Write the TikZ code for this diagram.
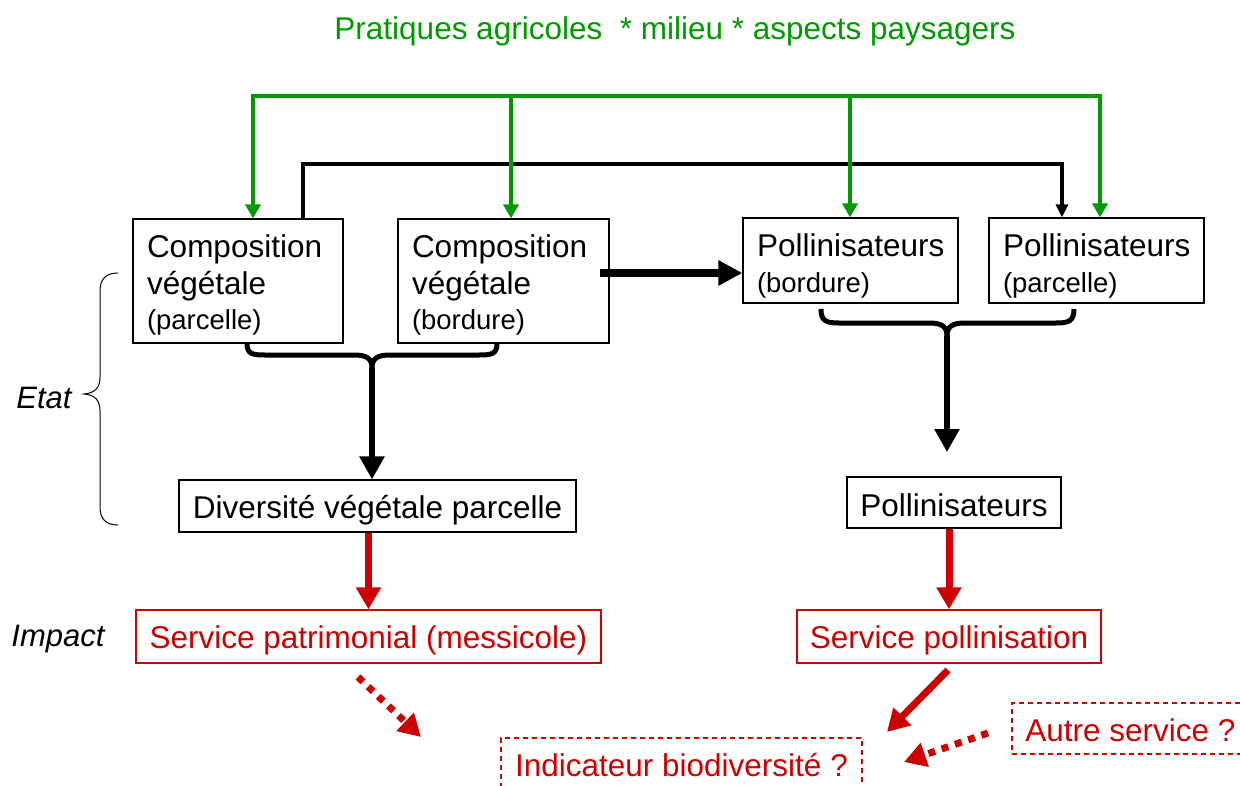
\documentclass[tikz,border=0pt]{standalone}
\usepackage{fontspec}
\setmainfont{Liberation Sans}
\usetikzlibrary{arrows.meta}
\definecolor{gr}{RGB}{0,153,0}
\definecolor{rd}{RGB}{204,0,0}
\tikzset{
  big/.style={font=\fontsize{31.5}{37}\selectfont},
  bbox/.style={draw=black, line width=1.2pt, rectangle, inner sep=0pt, big},
  mbox/.style={bbox, align=left, inner xsep=14pt},
  rbox/.style={draw=rd, line width=1.4pt, rectangle, inner sep=0pt, text=rd, big},
  dbox/.style={rbox, dash pattern=on 5pt off 4pt},
  garr/.style={draw=gr, line width=4pt, -{Triangle[length=14pt,width=15pt]}},
  thin/.style={draw=black, line width=3.5pt, -{Triangle[length=13pt,width=12pt]}},
  thick/.style={draw=black, line width=8pt, -{Triangle[length=24pt,width=24pt]}},
  bracel/.style={draw=black, line width=5pt},
  barr/.style={draw=black, line width=5.5pt, -{Triangle[length=23pt,width=24pt]}},
  rarr/.style={draw=rd, line width=7pt, -{Triangle[length=22pt,width=24pt]}},
  rdot/.style={draw=rd, line width=7pt, dash pattern=on 7pt off 7pt, -{Triangle[length=22pt,width=24pt]}},
  side/.style={font=\fontsize{31}{36}\selectfont\itshape},
}
\newcommand{\smalltxt}[1]{{\fontsize{27.5}{33}\selectfont #1}}
\begin{document}
\begin{tikzpicture}[x=1pt,y=-1pt]
\clip (0,0) rectangle (1240,785);
\useasboundingbox (0,0) rectangle (1240,785);

% title
\node[big, text=gr] (title) at (675,31) {Pratiques agricoles \ * milieu * aspects paysagers};

% top boxes
\node[mbox, minimum width=210pt, minimum height=124pt, text width=182pt] (b1) at (238,281)
  {\rule{0pt}{31pt}Composition\\végétale\\[-2pt]\smalltxt{(parcelle)}};
\node[mbox, minimum width=211pt, minimum height=124pt, text width=183pt] (b2) at (503.5,281)
  {\rule{0pt}{31pt}Composition\\végétale\\[-2pt]\smalltxt{(bordure)}};
\node[mbox, minimum width=215pt, minimum height=85pt, text width=187pt] (b3) at (850.5,260.5)
  {\rule{0pt}{33pt}Pollinisateurs\\[-1pt]\smalltxt{(bordure)}};
\node[mbox, minimum width=215pt, minimum height=85pt, text width=187pt] (b4) at (1096.5,260.5)
  {\rule{0pt}{33pt}Pollinisateurs\\[-1pt]\smalltxt{(parcelle)}};

% middle boxes
\node[bbox, minimum width=397pt, minimum height=52pt] (div) at (377.5,506) {\rule{0pt}{31.5pt}Diversité végétale parcelle};
\node[bbox, minimum width=214pt, minimum height=51pt] (pol) at (954,502.5) {\rule{0pt}{27.5pt}Pollinisateurs};

% red boxes
\node[rbox, minimum width=465pt, minimum height=53pt] (sp) at (368.5,636.5) {\rule{0pt}{31pt}Service patrimonial (messicole)};
\node[rbox, minimum width=304pt, minimum height=53pt] (spol) at (949,636.5) {\rule{0pt}{31pt}Service pollinisation};
\node[dbox, minimum width=361pt, minimum height=52pt] (ind) at (681.5,764) {\rule{0pt}{25pt}Indicateur biodiversité ?};
\node[dbox, minimum width=237pt, minimum height=51pt] (aut) at (1130.5,728.5) {\rule{0pt}{27pt}Autre service ?};

% side labels
\node[side] (etat) at (44,398) {Etat};
\node[side] (impact) at (58,639) {Impact};

% Etat brace
\coordinate (et) at (118,273);
\coordinate (eb) at (118,525);
\coordinate (etip) at (84,394);
\draw[black, line width=1pt] (et) .. controls (106,273) and (100,279) .. (100,291) -- (100,377)
  .. controls (100,388) and (95,393) .. (etip)
  .. controls (95,395) and (100,400) .. (100,411) -- (100,507)
  .. controls (100,519) and (106,525) .. (eb);

% black connector from b1 to b4
\coordinate (k1) at (303,164);
\coordinate (k2) at (1062,164);
\draw[thin] (k1 |- b1.north) -- (k1) -- (k2) -- (k2 |- b4.north);

% green connectors
\coordinate (g1) at (253,96);
\coordinate (g2) at (511,96);
\coordinate (g3) at (850,96);
\coordinate (g4) at (1100,96);
\draw[garr, {Triangle[length=14pt,width=15pt]}-{Triangle[length=14pt,width=15pt]}, line join=miter]
  (g1 |- b1.north) -- (g1) -- (g4) -- (g4 |- b4.north);
\draw[garr] (g2) -- (g2 |- b2.north);
\draw[garr] (g3) -- (g3 |- b3.north);

% thick arrow b2 -> b3
\coordinate (ta) at (600,273);
\draw[thick] (ta) -- (ta -| b3.west);

% brace 1
\coordinate (c1) at (372,368);
\draw[bracel] (247,343) .. controls (247,354) and (252,355) .. (265,355) -- (354,355)
  .. controls (366,355) and (372,358) .. (c1);
\draw[bracel] (497,343) .. controls (497,354) and (492,355) .. (479,355) -- (390,355)
  .. controls (378,355) and (372,358) .. (c1);
\draw[barr] (c1) -- (c1 |- div.north);

% brace 2
\coordinate (c2) at (947,336);
\coordinate (t2) at (947,452);
\draw[bracel] (821,309) .. controls (821,321) and (826,323) .. (839,323) -- (929,323)
  .. controls (941,323) and (947,326) .. (c2);
\draw[bracel] (1074,309) .. controls (1074,321) and (1069,323) .. (1056,323) -- (965,323)
  .. controls (953,323) and (947,326) .. (c2);
\draw[barr] (c2) -- (t2);

% red arrows
\draw[rarr] (div.south -| sp.north) -- (sp.north);
\draw[rarr] (pol.south -| spol.north) -- (spol.north);
\coordinate (r1s) at (948,670);
\coordinate (r1e) at (887,732);
\draw[rarr] (r1s) -- (r1e);
\coordinate (d1s) at (358,677);
\coordinate (d1e) at (421,737);
\draw[rdot] (d1s) -- (d1e);
\coordinate (d2s) at (988,733);
\coordinate (d2e) at (904,762);
\draw[rdot] (d2s) -- (d2e);
\end{tikzpicture}
\end{document}
